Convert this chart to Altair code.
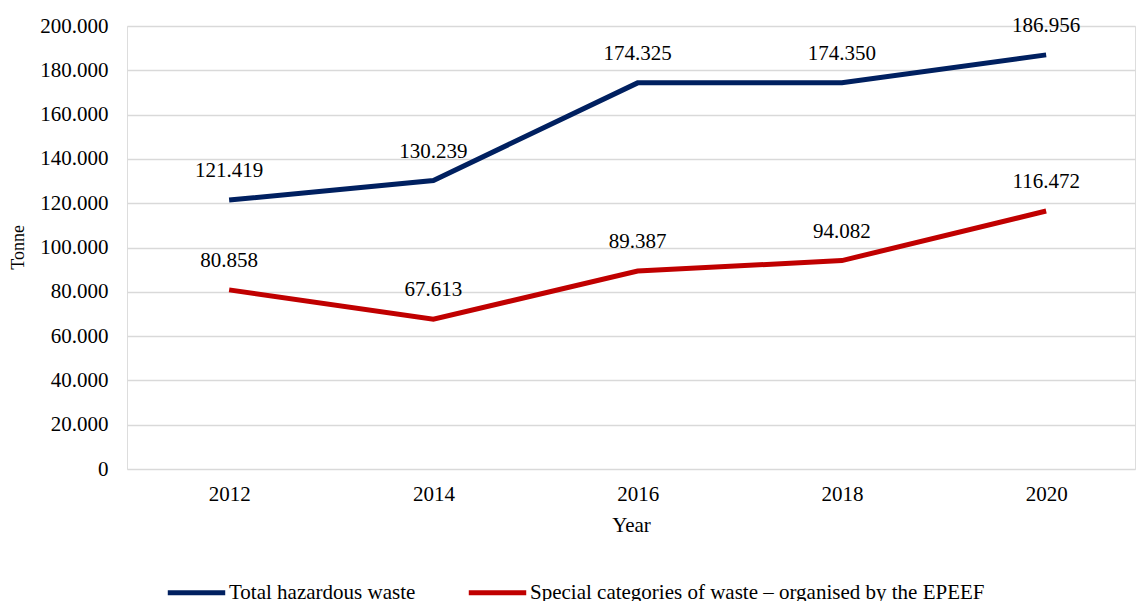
import altair as alt
import pandas as pd

years = [2012, 2014, 2016, 2018, 2020]
series_names = ["Total hazardous waste", "Special categories of waste – organised by the EPEEF"]
total_hazardous = [121419, 130239, 174325, 174350, 186956]
special_categories = [80858, 67613, 89387, 94082, 116472]
colors = ["#002060", "#C00000"]
y_ticks = [0, 20000, 40000, 60000, 80000, 100000, 120000, 140000, 160000, 180000, 200000]

rows = []
for y, v in zip(years, total_hazardous):
    rows.append({"year": y, "value": v, "series": series_names[0]})
for y, v in zip(years, special_categories):
    rows.append({"year": y, "value": v, "series": series_names[1]})
df = pd.DataFrame(rows)

FONT = "Liberation Serif"

x_enc = alt.X(
    "year:Q",
    scale=alt.Scale(domain=[2011, 2020.87], nice=False, zero=False),
    axis=alt.Axis(
        values=years, format="d", grid=False, ticks=False, domain=False,
        title="Year", labelPadding=14, titlePadding=10,
        labelFontSize=21, titleFontSize=21, labelColor="#000000", titleColor="#000000",
        labelFont=FONT, titleFont=FONT, titleFontWeight="normal",
    ),
)
y_enc = alt.Y(
    "value:Q",
    scale=alt.Scale(domain=[0, 200000], nice=False),
    axis=alt.Axis(
        values=y_ticks, grid=True, gridColor="#d9d9d9", gridWidth=1.5,
        ticks=False, domain=False, title="Tonne", labelPadding=19,
        labelExpr="replace(format(datum.value, ','), ',', '.')",
        labelFontSize=21, titleFontSize=18, labelColor="#000000", titleColor="#000000",
        labelFont=FONT, titleFont=FONT, titleFontWeight="normal",
        titleX=-109, titleY=221, titleAngle=270, titleBaseline="middle",
    ),
)
color_enc = alt.Color(
    "series:N",
    scale=alt.Scale(domain=series_names, range=colors),
    sort=series_names,
    legend=alt.Legend(
        title=None, orient="none", direction="horizontal",
        legendX=38, legendY=535,
        symbolType="stroke", symbolSize=3300, symbolStrokeWidth=5,
        labelFontSize=21, labelFont=FONT, labelColor="#000000",
        columnPadding=42, labelOffset=1, labelLimit=700,
    ),
)

base = alt.Chart(df)
lines = base.mark_line(strokeWidth=5).encode(x=x_enc, y=y_enc, color=color_enc)
labels = base.transform_calculate(
    lbl="replace(format(datum.value, ','), ',', '.')"
).mark_text(dy=-29, fontSize=21, font=FONT, color="#000000").encode(
    x=alt.X("year:Q"), y=alt.Y("value:Q"), text="lbl:N"
)

chart = alt.layer(lines, labels).properties(
    width=1008, height=443,
    padding={"left": 127, "top": 26, "right": 1, "bottom": 132},
    autosize=alt.AutoSizeParams(type="none"),
).configure_view(stroke=None).configure(background="white")

chart.save("out.html", embed_options={"renderer": "svg", "actions": False})
